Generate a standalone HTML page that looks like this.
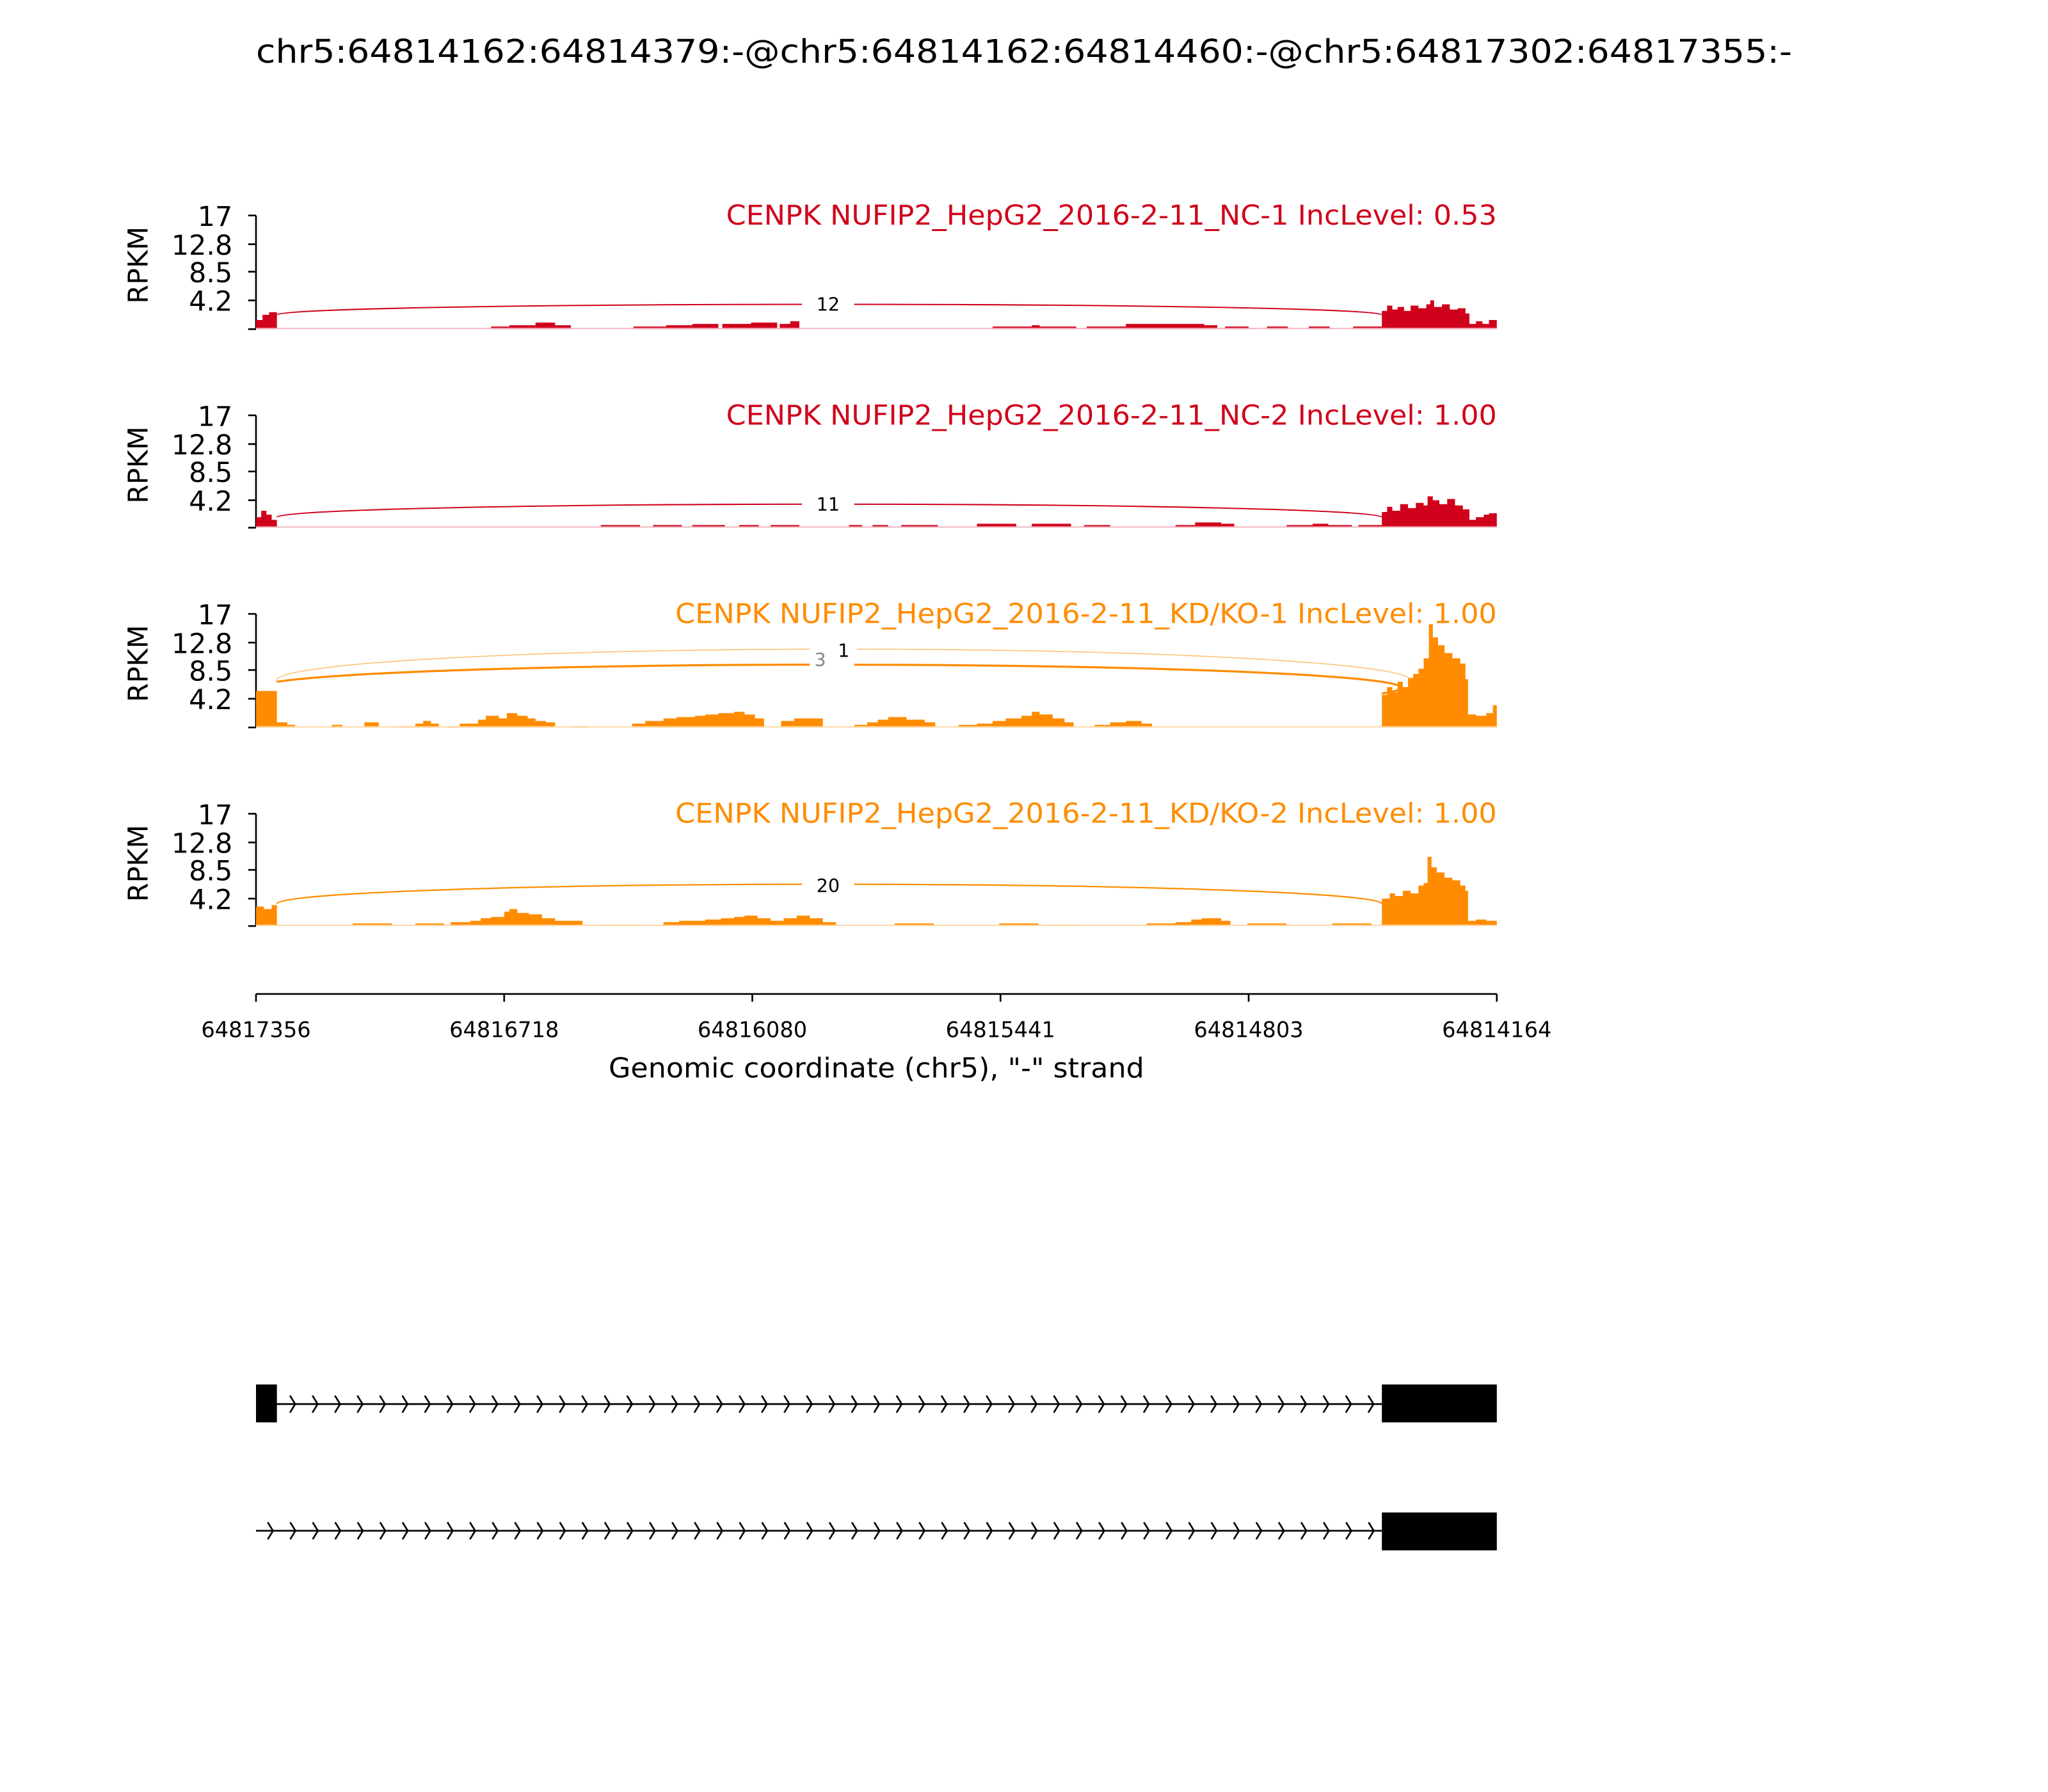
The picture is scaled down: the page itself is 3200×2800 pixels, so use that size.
<!DOCTYPE html>
<html><head><style>html,body{margin:0;padding:0;background:#fff}svg{display:block}</style></head>
<body>
<svg width="3200" height="2800" viewBox="0 0 1568 1372" xmlns="http://www.w3.org/2000/svg" font-family="'DejaVu Sans','Liberation Sans',sans-serif">
<defs>
<pattern id="chev" x="212" y="1066" width="17.2" height="20" patternUnits="userSpaceOnUse">
<path d="M10,2.5 L14,9 L10,15.5" fill="none" stroke="#000" stroke-width="1.3"/>
</pattern>
<pattern id="chev2" x="195" y="1163" width="17.2" height="20" patternUnits="userSpaceOnUse">
<path d="M10,2.5 L14,9 L10,15.5" fill="none" stroke="#000" stroke-width="1.3"/>
</pattern>
</defs>
<rect width="1568" height="1372" fill="#fff"/>
<text x="784" y="48" font-size="25" text-anchor="middle" textLength="1176" lengthAdjust="spacingAndGlyphs">chr5:64814162:64814379:-@chr5:64814162:64814460:-@chr5:64817302:64817355:-</text>

<g stroke="#000" stroke-width="1.3" fill="none">
<path d="M196,165V252 M190,165H196 M190,187H196 M190,208H196 M190,230H196 M190,252H196"/>
<path d="M196,318V404 M190,318H196 M190,340H196 M190,361H196 M190,383H196 M190,404H196"/>
<path d="M196,470V557 M190,470H196 M190,492H196 M190,513H196 M190,535H196 M190,557H196"/>
<path d="M196,623V709 M190,623H196 M190,645H196 M190,666H196 M190,688H196 M190,709H196"/>
<path d="M196,761H1146 M196,761v6 M386,761v6 M576,761v6 M766,761v6 M956,761v6 M1146,761v6"/>
</g>
<g font-size="21" text-anchor="end">
<text x="178" y="173">17</text><text x="178" y="195">12.8</text><text x="178" y="216">8.5</text><text x="178" y="238">4.2</text>
<text x="178" y="326">17</text><text x="178" y="348">12.8</text><text x="178" y="369">8.5</text><text x="178" y="391">4.2</text>
<text x="178" y="478">17</text><text x="178" y="500">12.8</text><text x="178" y="521">8.5</text><text x="178" y="543">4.2</text>
<text x="178" y="631">17</text><text x="178" y="653">12.8</text><text x="178" y="674">8.5</text><text x="178" y="696">4.2</text>
</g>
<g font-size="21" text-anchor="middle">
<text transform="translate(113,203) rotate(-90)">RPKM</text>
<text transform="translate(113,356) rotate(-90)">RPKM</text>
<text transform="translate(113,508) rotate(-90)">RPKM</text>
<text transform="translate(113,661) rotate(-90)">RPKM</text>
</g>
<g font-size="21" text-anchor="end">
<text x="1146" y="172" fill="#d0021b" textLength="590" lengthAdjust="spacingAndGlyphs">CENPK NUFIP2_HepG2_2016-2-11_NC-1 IncLevel: 0.53</text>
<text x="1146" y="325" fill="#d0021b" textLength="590" lengthAdjust="spacingAndGlyphs">CENPK NUFIP2_HepG2_2016-2-11_NC-2 IncLevel: 1.00</text>
<text x="1146" y="477" fill="#ff8c00" textLength="629" lengthAdjust="spacingAndGlyphs">CENPK NUFIP2_HepG2_2016-2-11_KD/KO-1 IncLevel: 1.00</text>
<text x="1146" y="630" fill="#ff8c00" textLength="629" lengthAdjust="spacingAndGlyphs">CENPK NUFIP2_HepG2_2016-2-11_KD/KO-2 IncLevel: 1.00</text>
</g>

<g fill="#d0021b">
<path d="M196,252V245H201V241H206V239H212V252Z"/>
<rect x="376" y="250" width="14" height="2"/><rect x="390" y="249" width="20" height="3"/><rect x="410" y="247" width="15" height="5"/><rect x="425" y="249" width="12" height="3"/>
<rect x="485" y="250" width="25" height="2"/><rect x="510" y="249" width="20" height="3"/><rect x="530" y="248" width="20" height="4"/>
<rect x="553" y="248" width="22" height="4"/><rect x="575" y="247" width="20" height="5"/><rect x="597" y="248" width="15" height="4"/><rect x="605" y="246" width="7" height="6"/>
<rect x="760" y="250" width="30" height="2"/><rect x="790" y="249" width="6" height="3"/><rect x="796" y="250" width="28" height="2"/>
<rect x="832" y="250" width="30" height="2"/><rect x="862" y="248" width="60" height="4"/><rect x="922" y="249" width="10" height="3"/>
<rect x="938" y="250" width="18" height="2"/><rect x="970" y="250" width="16" height="2"/><rect x="1002" y="250" width="16" height="2"/><rect x="1036" y="250" width="22" height="2"/>
<path d="M1058,252V238H1062V234H1066V237H1070V235H1075V238H1080V234H1086V236H1092V233H1095V230H1098V235H1104V233H1110V237H1116V236H1122V240H1125V248H1130V246H1135V248H1140V245H1146V252Z"/>
</g>
<rect x="196" y="251" width="950" height="1" fill="#f2b5bd"/>
<path d="M212,241 A423,8 0 0 1 1058,241" fill="none" stroke="#d0021b" stroke-width="1"/>
<rect x="614" y="225" width="40" height="16" fill="#fff"/>
<text x="634" y="238" font-size="14" text-anchor="middle">12</text>

<g fill="#d0021b">
<path d="M196,404V396H200V391H204V394H208V398H212V404Z"/>
<rect x="460" y="402" width="30" height="2"/><rect x="500" y="402" width="22" height="2"/><rect x="530" y="402" width="25" height="2"/><rect x="566" y="402" width="15" height="2"/><rect x="590" y="402" width="22" height="2"/>
<rect x="650" y="402" width="10" height="2"/><rect x="668" y="402" width="12" height="2"/><rect x="690" y="402" width="28" height="2"/>
<rect x="748" y="401" width="30" height="3"/><rect x="790" y="401" width="30" height="3"/><rect x="830" y="402" width="20" height="2"/>
<rect x="900" y="402" width="15" height="2"/><rect x="915" y="400" width="20" height="4"/><rect x="935" y="401" width="10" height="3"/>
<rect x="985" y="402" width="20" height="2"/><rect x="1005" y="401" width="12" height="3"/><rect x="1017" y="402" width="18" height="2"/><rect x="1040" y="402" width="18" height="2"/>
<path d="M1058,404V392H1062V388H1066V391H1072V386H1078V389H1084V385H1090V387H1093V380H1097V383H1102V386H1108V382H1114V387H1120V390H1125V398H1130V396H1136V394H1140V393H1146V404Z"/>
</g>
<rect x="196" y="403" width="950" height="1" fill="#f2b5bd"/>
<path d="M212,396 A423,10 0 0 1 1058,396" fill="none" stroke="#d0021b" stroke-width="1"/>
<rect x="614" y="378" width="40" height="16" fill="#fff"/>
<text x="634" y="391" font-size="14" text-anchor="middle">11</text>

<g fill="#ff8c00">
<path d="M196,557V529H212V553H220V555H226V557Z"/>
<path d="M254,557V555H262V557Z M279,557V553H290V557Z M302,557V556H318V554H324V552H330V554H336V557Z"/>
<path d="M343,557V556H352V554H366V551H372V548H382V550H388V546H396V548H404V550H410V552H418V553H425V557Z M437,557V556H450V557Z"/>
<path d="M484,557V554H494V552H508V550H518V549H532V548H540V547H550V546H562V545H570V547H578V550H585V557Z M598,557V552H608V550H630V557Z"/>
<path d="M654,557V555H664V553H672V551H680V549H694V551H708V553H716V557Z M734,557V555H748V554H760V552H770V550H782V548H790V545H796V547H806V550H815V553H822V557Z M838,557V555H850V553H862V552H874V554H882V557Z"/>
<path d="M1058,557V532H1062V526H1066V530H1070V522H1074V526H1078V519H1082V516H1086V512H1090V504H1094V478H1097V488H1101V494H1106V500H1112V504H1118V508H1122V520H1124V547H1130V548H1138V546H1143V540H1146V557Z"/>
</g>
<rect x="196" y="556" width="950" height="1" fill="#ffd9a8"/>
<path d="M212,522 A434,24 0 0 1 1080,520" fill="none" stroke="#ffc27a" stroke-width="0.8"/>
<path d="M212,522 A423,17 0 0 1 1058,531" fill="none" stroke="#ff8c00" stroke-width="1.6"/>
<rect x="620" y="490" width="34" height="26" fill="#fff"/>
<text x="628" y="510" font-size="14" text-anchor="middle" fill="#888">3</text>
<rect x="636" y="489" width="20" height="18" fill="#fff"/>
<text x="646" y="503" font-size="14" text-anchor="middle">1</text>

<g fill="#ff8c00">
<path d="M196,709V694H202V696H208V693H212V709Z"/>
<rect x="270" y="707" width="30" height="2"/><rect x="318" y="707" width="22" height="2"/>
<path d="M325,709V708H345V706H360V705H368V703H376V702H386V698H390V696H396V699H405V700H415V703H425V705H446V709Z M460,709V708H488V709Z"/>
<path d="M508,709V706H520V705H540V704H552V703H562V702H570V701H580V703H590V705H600V703H610V701H620V703H630V706H640V709Z"/>
<rect x="685" y="707" width="30" height="2"/><rect x="765" y="707" width="30" height="2"/><rect x="800" y="708" width="25" height="1"/>
<path d="M878,709V707H900V706H912V704H920V703H935V705H942V709Z M955,709V707H985V709Z M1020,709V707H1050V709Z"/>
<path d="M1058,709V688H1064V684H1068V686H1074V682H1080V684H1086V678H1090V676H1093V656H1096V664H1100V668H1106V672H1112V674H1118V678H1122V682H1124V705H1130V704H1138V705H1146V709Z"/>
</g>
<rect x="196" y="708" width="950" height="1" fill="#ffd9a8"/>
<path d="M212,692 A423,15 0 0 1 1058,692" fill="none" stroke="#ff8c00" stroke-width="1.1"/>
<rect x="614" y="669" width="40" height="16" fill="#fff"/>
<text x="634" y="683" font-size="14" text-anchor="middle">20</text>

<g font-size="16.5" text-anchor="middle">
<text x="196" y="794">64817356</text><text x="386" y="794">64816718</text><text x="576" y="794">64816080</text>
<text x="766" y="794">64815441</text><text x="956" y="794">64814803</text><text x="1146" y="794">64814164</text>
</g>
<text x="671" y="825" font-size="21" text-anchor="middle" textLength="410" lengthAdjust="spacingAndGlyphs">Genomic coordinate (chr5), "-" strand</text>

<line x1="196" y1="1075" x2="1058" y2="1075" stroke="#000" stroke-width="1.3"/>
<rect x="212" y="1066" width="846" height="18" fill="url(#chev)"/>
<rect x="196" y="1060" width="16" height="29" fill="#000"/>
<rect x="1058" y="1060" width="88" height="29" fill="#000"/>

<line x1="196" y1="1172" x2="1058" y2="1172" stroke="#000" stroke-width="1.3"/>
<rect x="196" y="1163" width="862" height="18" fill="url(#chev2)"/>
<rect x="1058" y="1158" width="88" height="29" fill="#000"/>
</svg>
</body></html>
